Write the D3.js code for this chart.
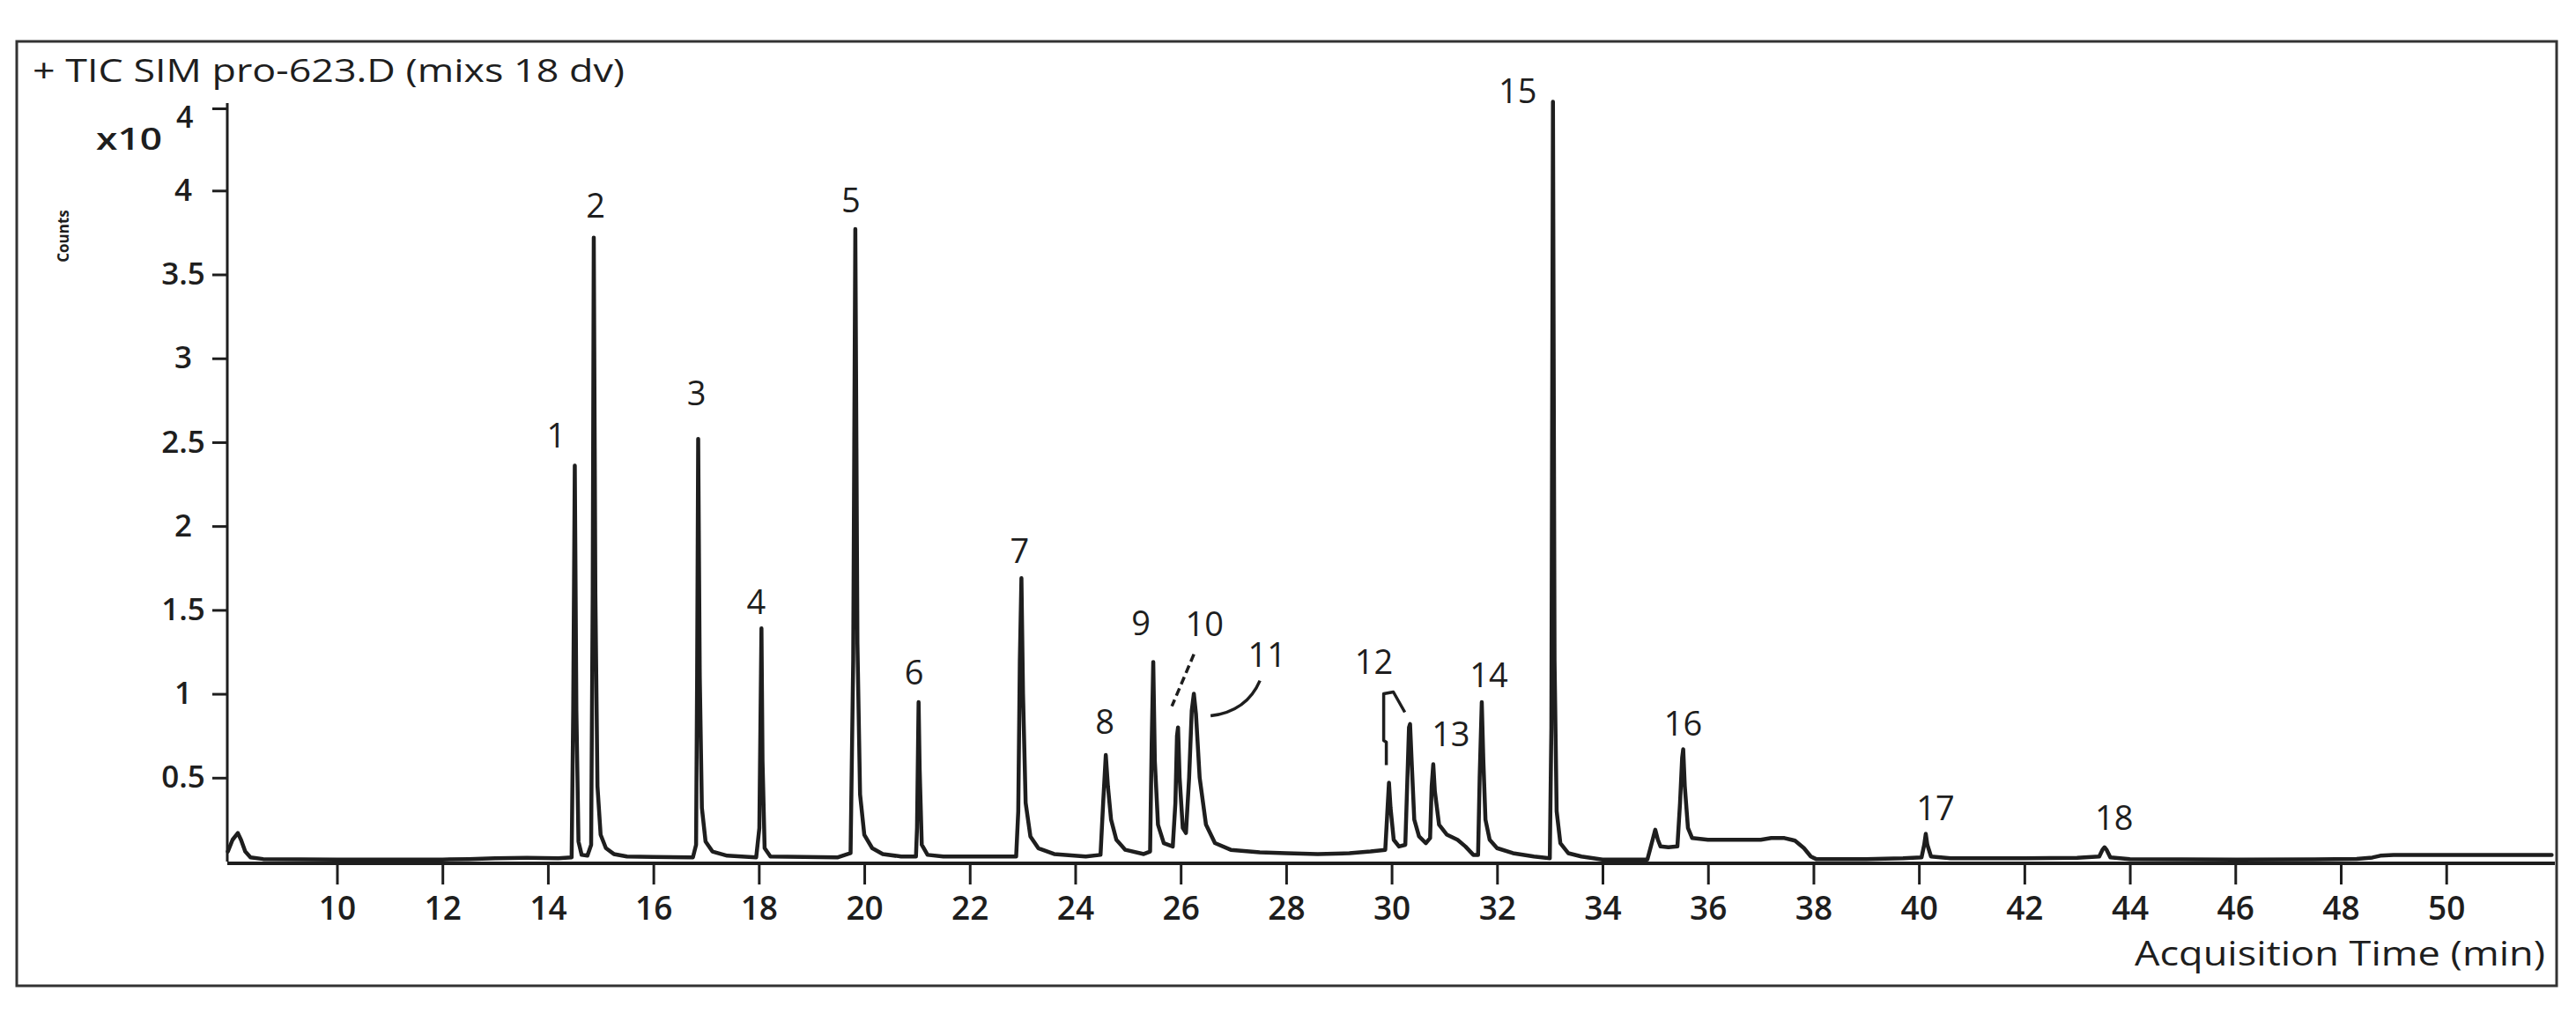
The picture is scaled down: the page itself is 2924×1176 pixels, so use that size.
<!DOCTYPE html>
<html><head><meta charset="utf-8">
<script src="https://cdn.jsdelivr.net/npm/d3@7"></script>
<style>
html,body{margin:0;padding:0;background:#fff;}
svg{display:block;}
</style></head><body>
<svg id="chart" width="2924" height="1176"></svg>
<script>
// ---- data (minutes, counts x10^4) ----
const traceTime = [7.93,8.02,8.12,8.18,8.26,8.36,8.6,10.0,12.0,12.5,13.0,13.6,14.2,
 14.45,14.48,14.51,14.54,14.58,14.64,14.75,14.82,14.85,14.87,14.90,14.94,15.0,15.1,15.25,15.5,16.0,
 16.75,16.81,16.83,16.85,16.88,16.92,16.99,17.12,17.4,17.95,18.01,18.03,18.05,18.07,18.11,18.22,
 19.5,19.74,19.79,19.83,19.87,19.92,20.0,20.15,20.35,20.7,20.98,21.0,21.02,21.03,21.05,21.09,21.2,21.5,
 22.88,22.92,22.95,22.98,23.01,23.06,23.15,23.3,23.6,24.2,24.48,24.53,24.58,24.62,24.68,24.78,24.95,25.3,
 25.42,25.45,25.48,25.51,25.57,25.68,25.85,25.9,25.93,25.95,25.98,26.04,26.1,26.16,26.21,26.25,26.29,26.36,
 26.48,26.65,26.95,27.5,28.0,28.6,29.2,29.6,29.88,29.92,29.95,29.98,30.04,30.14,30.26,30.3,30.33,30.35,
 30.38,30.43,30.52,30.65,30.73,30.76,30.79,30.82,30.9,31.05,31.25,31.4,31.55,31.64,31.67,31.71,31.74,31.78,
 31.86,32.0,32.3,32.7,33.0,33.03,33.06,33.09,33.13,33.2,33.35,33.6,34.0,34.85,34.9,34.95,35.0,35.05,35.1,
 35.25,35.42,35.47,35.51,35.53,35.56,35.62,35.7,36.0,36.5,37.0,37.2,37.45,37.65,37.82,37.95,38.05,39.0,
 39.7,40.05,40.1,40.13,40.16,40.23,40.6,42.0,43.0,43.42,43.48,43.52,43.56,43.63,44.0,46.0,47.5,48.3,48.6,
 48.75,49.0,52.0];
const traceCounts = [0.06,0.13,0.17,0.13,0.06,0.025,0.015,0.012,0.012,0.015,0.02,0.022,0.02,
 0.025,0.9,2.36,0.9,0.12,0.04,0.035,0.1,1.6,3.72,1.6,0.45,0.16,0.08,0.045,0.03,0.028,
 0.025,0.1,1.1,2.52,1.1,0.32,0.12,0.06,0.035,0.025,0.2,0.8,1.39,0.6,0.08,0.03,
 0.025,0.05,1.2,3.77,1.3,0.4,0.16,0.08,0.045,0.03,0.03,0.2,0.7,0.95,0.55,0.1,0.04,0.03,
 0.03,0.3,1.2,1.69,1.0,0.35,0.15,0.08,0.045,0.03,0.04,0.35,0.635,0.45,0.25,0.13,0.07,0.045,
 0.06,0.7,1.19,0.6,0.22,0.11,0.09,0.35,0.75,0.80,0.5,0.2,0.17,0.5,0.9,1.0,0.88,0.5,
 0.22,0.11,0.07,0.055,0.05,0.045,0.05,0.06,0.07,0.3,0.47,0.32,0.13,0.09,0.1,0.5,0.8,0.82,
 0.6,0.25,0.15,0.11,0.14,0.45,0.58,0.42,0.22,0.16,0.13,0.09,0.04,0.04,0.5,0.95,0.6,0.25,
 0.13,0.08,0.05,0.03,0.02,0.8,4.53,1.2,0.3,0.11,0.05,0.03,0.012,0.012,0.07,0.13,0.19,0.13,0.09,
 0.085,0.09,0.35,0.62,0.67,0.45,0.2,0.14,0.13,0.13,0.13,0.14,0.14,0.125,0.08,0.03,0.015,0.015,
 0.02,0.025,0.1,0.165,0.1,0.03,0.02,0.02,0.022,0.03,0.07,0.085,0.07,0.025,0.015,0.012,0.013,0.016,0.024,
 0.035,0.04,0.04];

const peakLabels  = ["1","2","3","4","5","6","7","8","9","10","11","12","13","14","15","16","17","18"];
const peakTimes   = [14.51,14.87,16.85,18.05,19.83,21.03,22.98,24.58,25.48,25.95,26.25,29.95,30.79,31.71,33.06,35.53,40.13,43.52];
const peakHeights = [2.36,3.72,2.52,1.39,3.77,0.95,1.69,0.635,1.19,0.80,1.0,0.47,0.58,0.95,4.53,0.67,0.165,0.085];

const xTickValues = [10,12,14,16,18,20,22,24,26,28,30,32,34,36,38,40,42,44,46,48,50];
const yTickValues = [0.5,1,1.5,2,2.5,3,3.5,4];
const yTickLabels = ["0.5","1","1.5","2","2.5","3","3.5","4"];

const titleText = "+ TIC SIM pro-623.D (mixs 18 dv)";
const xAxisTitle = "Acquisition Time (min)";
const yAxisTitle = "Counts";
const yExponentBase = "x10";
const yExponent = "4";

// ---- layout ----
const W = 2924, H = 1176;
const plot = {left: 258, right: 2900, top: 123, bottom: 978};
const frame = {x: 19, y: 47, w: 2883, h: 1072};
// label offsets (px) from each peak apex to label centre
const labelOffset = [[-21,-36],[2,-38],[-2,-53],[-6,-31],[-5,-34],[-5,-35],[-2,-32],[-1,-39],[-14,-45],
  [30,-119],[83,-46],[-17,-139],[20,-36],[8,-32],[-40,-13],[0,-30],[11,-31],[11,-35]];

const svg = d3.select("#chart");
const ink = "#1e1e1e";
const textFont = "'Open Sans', 'Noto Sans', sans-serif";

const x = d3.scaleLinear().domain([7.92, 52.06]).range([plot.left, plot.right]);
const y = d3.scaleLinear().domain([0, 4.49]).range([plot.bottom, plot.top]);

// frame
svg.append("rect").attr("x", frame.x).attr("y", frame.y).attr("width", frame.w).attr("height", frame.h)
  .attr("fill", "none").attr("stroke", "#333").attr("stroke-width", 3);

// title
svg.append("text").attr("x", 37).attr("y", 93).attr("font-family", textFont).attr("font-size", 36)
  .attr("fill", ink).attr("textLength", 672).attr("lengthAdjust", "spacingAndGlyphs").text(titleText);

// x axis
const xAxis = d3.axisBottom(x).tickValues(xTickValues).tickSize(24).tickPadding(14).tickFormat(d3.format("d"));
const gx = svg.append("g").attr("transform", `translate(0,${plot.bottom + 2})`).call(xAxis);
gx.select(".domain").attr("stroke", ink).attr("stroke-width", 4).attr("d", `M${plot.left},0H${plot.right}`);
gx.selectAll(".tick line").attr("stroke", ink).attr("stroke-width", 3);
gx.selectAll(".tick text").attr("font-family", textFont).attr("font-size", 37).attr("font-weight", 600)
  .attr("fill", ink).attr("dy", "0.71em");

// y axis
const yAxis = d3.axisLeft(y).tickValues(yTickValues.concat([4.49])).tickSize(17).tickPadding(0)
  .tickFormat((d) => { const i = yTickValues.indexOf(d); return i >= 0 ? yTickLabels[i] : ""; });
const gy = svg.append("g").attr("transform", `translate(${plot.left},0)`).call(yAxis);
gy.select(".domain").attr("stroke", ink).attr("stroke-width", 3).attr("d", `M0,${plot.top - 6}V${plot.bottom}`);
gy.selectAll(".tick line").attr("stroke", ink).attr("stroke-width", 3);
gy.selectAll(".tick text").attr("font-family", textFont).attr("font-size", 35).attr("font-weight", 600)
  .attr("fill", ink).attr("text-anchor", "middle").attr("x", -50);

// exponent label
svg.append("text").attr("x", 109).attr("y", 170).attr("font-family", textFont).attr("font-size", 35)
  .attr("font-weight", 600).attr("fill", ink).attr("textLength", 75).attr("lengthAdjust", "spacingAndGlyphs")
  .text(yExponentBase);
svg.append("text").attr("x", 200).attr("y", 145).attr("font-family", textFont).attr("font-size", 34)
  .attr("font-weight", 600).attr("fill", ink).text(yExponent);

// Counts
svg.append("text").attr("transform", "translate(78,268) rotate(-90)").attr("text-anchor", "middle")
  .attr("font-family", textFont).attr("font-size", 17).attr("font-weight", 700).attr("fill", ink).text(yAxisTitle);

// x axis title
svg.append("text").attr("x", 2889).attr("y", 1096).attr("text-anchor", "end").attr("font-family", textFont)
  .attr("font-size", 38).attr("fill", ink).attr("textLength", 466).attr("lengthAdjust", "spacingAndGlyphs")
  .text(xAxisTitle);

// trace
const pts = traceTime.map((t, i) => [t, traceCounts[i]]);
const line = d3.line().x(d => x(d[0])).y(d => y(d[1]));
svg.append("path").datum(pts).attr("d", line).attr("fill", "none").attr("stroke", ink)
  .attr("stroke-width", 4.5).attr("stroke-linejoin", "round").attr("stroke-linecap", "round");

// peak labels
peakLabels.forEach((lab, i) => {
  const px = x(peakTimes[i]), py = y(peakHeights[i]);
  svg.append("text").attr("x", px + labelOffset[i][0]).attr("y", py + labelOffset[i][1])
    .attr("text-anchor", "middle").attr("dominant-baseline", "central")
    .attr("font-family", textFont).attr("font-size", 38).attr("fill", ink).text(lab);
});

// leader lines (10, 11, 12)
function apex(i) { return [x(peakTimes[i]), y(peakHeights[i])]; }
{
  const [px, py] = apex(9);
  svg.append("path").attr("d", `M${px + 18},${py - 83}L${px - 7},${py - 24}`)
    .attr("stroke", ink).attr("stroke-width", 3.5).attr("stroke-dasharray", "9,5").attr("fill", "none");
}
{
  const [px, py] = apex(10);
  svg.append("path").attr("d", `M${px + 75},${py - 15}Q${px + 60},${py + 20} ${px + 19},${py + 25}`)
    .attr("stroke", ink).attr("stroke-width", 3.5).attr("fill", "none");
}
{
  const [px, py] = apex(11);
  svg.append("path").attr("d", `M${px - 3},${py - 20}V${py - 46}L${px - 6},${py - 48}V${py - 101}L${px + 5},${py - 103}L${px + 18},${py - 80}`)
    .attr("stroke", ink).attr("stroke-width", 3.5).attr("fill", "none").attr("stroke-linejoin", "round");
}
</script>
</body></html>
